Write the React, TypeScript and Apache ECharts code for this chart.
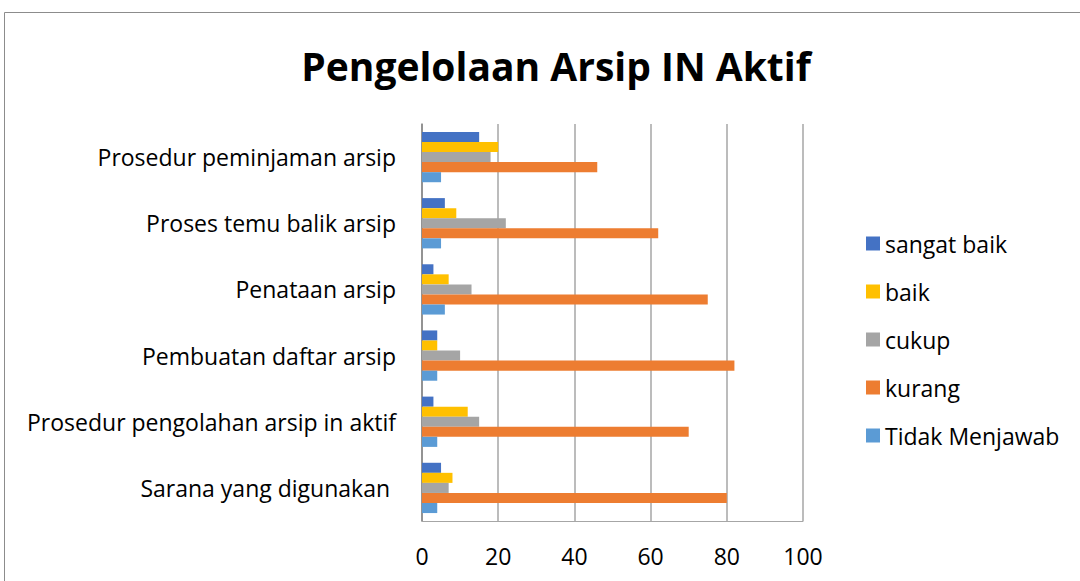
import React, { useEffect, useRef } from "react";
import * as echarts from "echarts";

const categories = [
  "Prosedur peminjaman arsip",
  "Proses temu balik arsip",
  "Penataan arsip",
  "Pembuatan daftar arsip",
  "Prosedur pengolahan arsip in aktif",
  "Sarana yang digunakan ",
];
const seriesNames = ["sangat baik", "baik", "cukup", "kurang", "Tidak Menjawab"];
const sangatBaik = [15, 6, 3, 4, 3, 5];
const baik = [20, 9, 7, 4, 12, 8];
const cukup = [18, 22, 13, 10, 15, 7];
const kurang = [46, 62, 75, 82, 70, 80];
const tidakMenjawab = [5, 5, 6, 4, 4, 4];
const xTicks = [0, 20, 40, 60, 80, 100];
const colors = ["#4472C4", "#FFC000", "#A5A5A5", "#ED7D31", "#5B9BD5"];

const FONT = "'Open Sans', sans-serif";

export default function App() {
  const ref = useRef<HTMLDivElement>(null);
  useEffect(() => {
    if (!ref.current) return;
    const chart = echarts.init(ref.current, null, { renderer: "svg" });
    const values = [sangatBaik, baik, cukup, kurang, tidakMenjawab];
    chart.setOption({
      animation: false,
      backgroundColor: "#ffffff",
      title: {
        text: "Pengelolaan Arsip IN Aktif",
        left: 551,
        top: 41,
        textAlign: "center",
        textStyle: { fontFamily: FONT, fontSize: 39, fontWeight: "bold", color: "#000" },
      },
      graphic: [
        {
          type: "rect",
          shape: { x: 4.5, y: 12.5, width: 1100, height: 600 },
          style: { fill: "none", stroke: "#8c8c8c", lineWidth: 1 },
          silent: true,
        },
      ],
      legend: {
        orient: "vertical",
        left: 861,
        top: 227,
        itemWidth: 14,
        itemHeight: 14,
        itemGap: 25,
        icon: "rect",
        data: seriesNames,
        textStyle: { fontFamily: FONT, fontSize: 23, color: "#000", padding: [0, 0, 0, 0] },
      },
      grid: { left: 422, right: 277, top: 124, bottom: 60, containLabel: false },
      xAxis: {
        type: "value",
        min: xTicks[0],
        max: xTicks[xTicks.length - 1],
        interval: 20,
        axisLine: { show: true, lineStyle: { color: "#a6a6a6" } },
        axisTick: { show: false },
        splitLine: { show: true, lineStyle: { color: "#a6a6a6", width: 1.5 } },
        axisLabel: { fontFamily: FONT, fontSize: 23, color: "#000", margin: 23 },
      },
      yAxis: {
        type: "category",
        inverse: true,
        data: categories,
        axisLine: { show: true, lineStyle: { color: "#868686", width: 1.5 } },
        axisTick: { show: false },
        axisLabel: { fontFamily: FONT, fontSize: 23, color: "#000", margin: 26 },
      },
      series: seriesNames.map((name, i) => ({
        name,
        type: "bar",
        data: values[i],
        barGap: "0%",
        barCategoryGap: "24%",
        itemStyle: { color: colors[i] },
      })),
    });
    return () => chart.dispose();
  }, []);
  return <div ref={ref} style={{ width: 1080, height: 581, position: "absolute", left: 0, top: 0 }} />;
}
